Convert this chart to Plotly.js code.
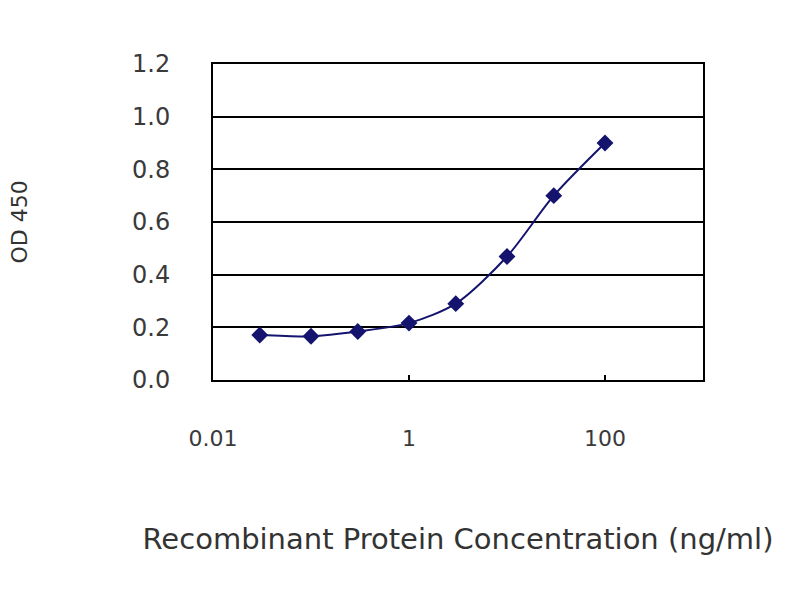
<!DOCTYPE html>
<html>
<head>
<meta charset="utf-8">
<script src="https://cdn.plot.ly/plotly-3.0.1.min.js"></script>
<style>html,body{margin:0;padding:0;background:#fff;}#chart{width:800px;height:600px;}</style>
</head>
<body>
<div id="chart"></div>
<script>
var concentration = [0.03, 0.1, 0.3, 1, 3, 10, 30, 100];
var od450 = [0.171, 0.166, 0.184, 0.216, 0.29, 0.469, 0.70, 0.90];
var xTickVals = [0.01, 1, 100];
var xTickText = ['0.01', '1', '100'];
var yTickVals = [0, 0.2, 0.4, 0.6, 0.8, 1.0, 1.2];
var yTickText = ['0.0', '0.2', '0.4', '0.6', '0.8', '1.0', '1.2'];

var FONT = 'DejaVu Sans, Arial, sans-serif';
var trace = {
  x: concentration,
  y: od450,
  type: 'scatter',
  mode: 'lines+markers',
  line: {color: '#14146e', width: 2, shape: 'spline', smoothing: 0.8},
  marker: {symbol: 'diamond', size: 13, color: '#14146e'},
  showlegend: false,
  hoverinfo: 'x+y'
};

var layout = {
  width: 800, height: 600,
  paper_bgcolor: '#fff', plot_bgcolor: '#fff',
  margin: {l: 213, r: 97, t: 64, b: 220},
  font: {family: FONT, color: '#3a3a3a'},
  xaxis: {
    type: 'log',
    range: [-2, 3],
    tickvals: xTickVals,
    ticktext: xTickText,
    ticks: 'inside', ticklen: 5, tickcolor: '#000', tickwidth: 1.5,
    showgrid: false, zeroline: false,
    showline: true, mirror: true, linecolor: '#000', linewidth: 2,
    tickfont: {size: 22, family: FONT, color: '#3a3a3a'},
    ticklabelstandoff: 38,
    title: {text: 'Recombinant Protein Concentration (ng/ml)', font: {size: 29, family: FONT, color: '#333'}, standoff: 78}
  },
  yaxis: {
    range: [0, 1.2],
    tickvals: yTickVals,
    ticktext: yTickText,
    ticks: '',
    showgrid: true, gridcolor: '#000', gridwidth: 2,
    zeroline: false,
    showline: true, mirror: true, linecolor: '#000', linewidth: 2,
    tickfont: {size: 24, family: FONT, color: '#3a3a3a'},
    ticklabelstandoff: 36,
    title: {text: 'OD 450', font: {size: 22, family: FONT, color: '#333'}, standoff: 98}
  }
};

Plotly.newPlot('chart', [trace], layout, {displayModeBar: false, staticPlot: true});
</script>
</body>
</html>
